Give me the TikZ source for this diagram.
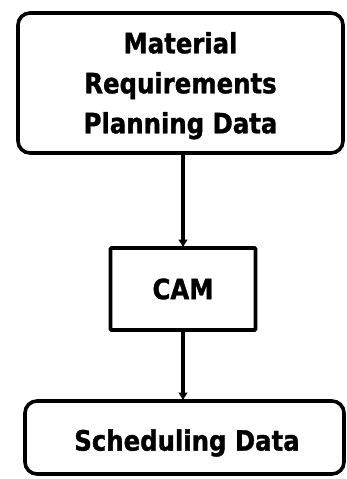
\documentclass[tikz,border=0pt]{standalone}
\usepackage{fontspec}
\newfontfamily\diafont[FakeStretch=0.87,FakeBold=1.2]{DejaVu Sans Bold}
\usetikzlibrary{arrows.meta}

\begin{document}
\begin{tikzpicture}[x=1pt,y=-1pt,
  box/.style={draw=black, line width=3.6pt, inner sep=0pt},
  roundbox/.style={box, rounded corners=12pt},
  label text/.style={inner sep=0pt, align=center,
    font=\diafont\fontsize{28}{40}\selectfont},
  flow/.style={draw=black, line width=3.4pt,
    -{Latex[length=8pt,width=10pt]}, shorten >=-1.5pt}]
  \useasboundingbox (0,0) rectangle (346,479);

  % data stores
  \node[roundbox, minimum width=325pt, minimum height=140pt] (mrp) at (180.5,83) {};
  \node[label text] (mrptext) at (180.5,85.7) {Material\\Requirements\\Planning Data};

  \node[roundbox, minimum width=319pt, minimum height=73pt] (sched) at (184.5,437.5) {};
  \node[label text] (schedtext) at (187,443) {Scheduling Data};

  % process
  \node[label text, box, rounded corners=1pt, minimum width=145pt, minimum height=82pt]
    (cam) at (183,289) {CAM};

  % data flow
  \draw[flow] (mrp.south -| cam.north) -- (cam.north);
  \draw[flow] (cam.south) -- (cam.south |- sched.north);
\end{tikzpicture}
\end{document}
